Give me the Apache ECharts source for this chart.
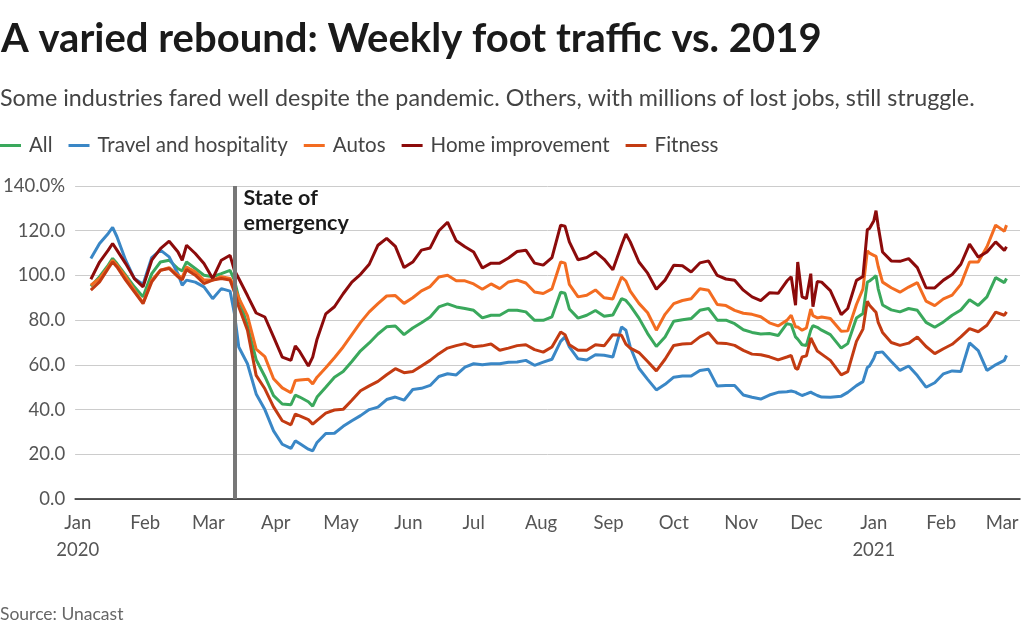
<!DOCTYPE html>
<html><head><meta charset="utf-8">
<script src="https://cdn.jsdelivr.net/npm/echarts@6/dist/echarts.min.js"></script>
<style>html,body{margin:0;padding:0;background:#fff;}#chart{width:1024px;height:636px;}</style>
</head><body><div id="chart"></div>
<script>
const dates = ['2020-01-07','2020-01-11','2020-01-15','2020-01-17','2020-01-19','2020-01-23','2020-01-27','2020-01-31','2020-02-04','2020-02-08',
'2020-02-12','2020-02-16','2020-02-18','2020-02-20','2020-02-24','2020-02-28','2020-03-03','2020-03-07','2020-03-11','2020-03-13',
'2020-03-15','2020-03-19','2020-03-23','2020-03-27','2020-03-31','2020-04-04','2020-04-08','2020-04-10','2020-04-12','2020-04-16',
'2020-04-18','2020-04-20','2020-04-24','2020-04-28','2020-05-02','2020-05-06','2020-05-10','2020-05-14','2020-05-18','2020-05-22',
'2020-05-26','2020-05-30','2020-06-03','2020-06-07','2020-06-11','2020-06-15','2020-06-19','2020-06-23','2020-06-27','2020-07-01',
'2020-07-05','2020-07-09','2020-07-13','2020-07-17','2020-07-21','2020-07-25','2020-07-29','2020-08-02','2020-08-06','2020-08-10',
'2020-08-12','2020-08-14','2020-08-18','2020-08-22','2020-08-26','2020-08-30','2020-09-03','2020-09-07','2020-09-09','2020-09-11',
'2020-09-15','2020-09-19','2020-09-23','2020-09-27','2020-10-01','2020-10-05','2020-10-09','2020-10-13','2020-10-17','2020-10-21',
'2020-10-25','2020-10-29','2020-11-02','2020-11-06','2020-11-10','2020-11-14','2020-11-18','2020-11-22','2020-11-24','2020-11-26',
'2020-11-27','2020-11-29','2020-12-01','2020-12-03','2020-12-04','2020-12-06','2020-12-08','2020-12-12','2020-12-17','2020-12-20',
'2020-12-24','2020-12-27','2020-12-29','2020-12-30','2021-01-01','2021-01-02','2021-01-03','2021-01-05','2021-01-09','2021-01-13',
'2021-01-17','2021-01-21','2021-01-25','2021-01-29','2021-02-02','2021-02-06','2021-02-10','2021-02-14','2021-02-18','2021-02-22',
'2021-02-26','2021-03-02','2021-03-03'];

const allValues = [95.2,99.4,104.6,107.6,105.3,100.1,94.9,90.4,100.8,106,
106.8,103.1,102,106,103.1,100.1,99.4,100.8,102.3,97.9,
90,77.5,62.3,54.8,46.2,42.5,42.2,46.5,45.6,43.5,
41.5,45.6,50,54.5,57,61.5,66.3,69.8,73.8,77,
77.4,73.5,76.5,78.8,81.4,85.9,87.3,85.9,85.2,84.4,
81,82.2,82.2,84.4,84.4,83.7,79.9,79.9,81.5,92.5,
92,85,80.9,82.2,84.3,81.7,82.3,89.6,88.8,86.5,
80.9,74,68.2,72.5,79.5,80.2,80.7,84.4,85.2,80,
80,78.4,75.7,74.5,73.8,74,73.1,78.4,78,72.5,
71.5,69,68.7,75.5,77.5,76.8,75.5,73.5,67.5,69.5,
81,83,97,97.5,99,100,94,86.8,84.6,83.7,
85.2,84.4,79,76.8,79.2,82.2,84.5,89.1,86.6,90.4,
99,96.8,98.6];

const travelValues = [107.6,114.3,118.8,121.5,117.3,106.8,98.6,96,108,111.3,
108.3,100.8,95.6,97.9,97,94.9,89.6,94.1,93,83,
68,60.5,47,40,30.5,24.5,22.6,26,24.8,22.3,
21.5,25.3,29.3,29.4,32.5,35,37.3,40,41.1,44.5,
45.6,44.2,49,49.5,50.8,54.8,56,55.5,59,60.5,
60,60.5,60.5,61.2,61.3,62,59.8,61.2,62.5,70.5,
72.5,68,62.7,62.2,64.5,64.3,63.5,77,75.5,68,
58.5,53.5,48.8,51.3,54.5,55,55,57.5,58,50.5,
50.8,50.8,46.5,45.5,44.7,46.5,47.7,48,48.3,47.8,
47.2,46.3,47,47.8,47.2,46.3,45.6,45.5,46,47.7,
50.7,52.5,58.8,59.5,63,65.5,65.5,65.8,61.5,57.5,
59.5,55.2,50,52,56,57.3,57,69.8,66.4,57.5,
60,62,64.2];

const autosValues = [95.6,98.6,103.8,106.8,104.6,99.4,93.4,87.7,97.9,102.3,
103.5,100.1,99,103.8,101.6,97.9,97.9,99.4,98.6,94.9,
90,82,67,63.7,53.8,49.7,47.5,53,53.2,53.6,
51.5,54.5,58.7,63.2,68,73.5,79,83.7,87.4,90.8,
91,87.5,90,93.1,95,99.3,100.1,97.6,97.6,96.2,
93.8,96.2,94.1,97.1,97.9,96.6,92.6,91.9,94,106,
105.5,96,90.4,91.1,93.5,90,89.5,99.3,97.5,93,
87.5,83.3,75.5,82.6,87.4,88.8,89.6,94,93.4,87,
86.5,84.4,83.1,82.6,81.5,78.8,77.4,79.9,82.2,76.9,
76.9,75.5,76.5,85,82,81,81.4,80.7,75,75.2,
87,94,111,110,109,108.5,104,97,94.5,92.5,
94.8,96.8,88.5,86.5,89.5,91.2,96,106,106,112.8,
122.5,119.8,122.5];

const homeValues = [98.3,106,111.3,114.3,111.3,105.3,98.6,94.9,106.8,112,
115.3,110.6,106.8,113.5,109.8,105.3,98.6,106.8,109,102.3,
98.6,91,83.2,81.4,72.5,63.5,62,68.5,66,59.5,
63.5,71.5,82.8,86,91.8,97,100.5,105,113.5,116.6,
113,103.5,106,111.3,112.3,120,123.8,115.5,112.8,110.5,
103.3,105.5,105.5,107.8,110.7,111.3,105.5,104.6,108,122.5,
122,115,107,108,110.5,107.2,102.5,113.5,118.5,115,
106,101,93.8,97.9,104.6,104.3,101.5,105.6,106.5,100,
98.4,97.8,93.4,90.4,88.7,92.2,92,97.5,99.4,86.7,
106,90.4,89.6,100.8,86,97.3,97,93.2,82.5,85.2,
97.8,99.5,120.5,121,124.5,129,122,110.5,106.5,106.3,
107.5,103.5,94.5,94.4,97.9,100.4,105,114,108.2,110.5,
115,111.2,112.8];

const fitnessValues = [93.4,97.1,103.1,106,103.8,97.9,92.6,87.4,97.1,102.3,
103.1,99.4,98,102.6,100.1,96.4,97.9,98.6,97.9,92.6,
86,75.5,55.3,49.3,41.2,35,33.2,38,37.2,35.5,
33.5,35.2,38.4,39.8,40.1,44.2,48.4,50.6,52.6,55.6,
58.3,56.5,57,59.5,62,65,67.5,68.6,69.5,68.1,
68.5,69.3,66.5,67.5,68.6,69,66.8,65.7,68,74.7,
73.5,69,66.5,66.5,69,68.5,73.5,73.2,69.3,67.5,
65.5,61.5,57.3,62.5,68.7,69.3,69.5,72.5,74.4,69.8,
69.6,68.7,66.5,64.8,64.5,63.6,62.2,63.5,64.2,58.5,
58,63.5,64,72,70,66.2,64.8,62,55.5,57,
70.5,76,88.5,86.7,84.5,83.5,79,74.5,70,68.7,
69.7,72.5,68.2,65,67.2,69.2,72.5,76.2,74.8,77.7,
83.6,82.2,83.7];

const seriesNames = ['All','Travel and hospitality','Autos','Home improvement','Fitness'];
const seriesColors = ['#3aa85c','#3a87c6','#f36c21','#8c0b0b','#c33b12'];
const monthNames = ['Jan','Feb','Mar','Apr','May','Jun','Jul','Aug','Sep','Oct','Nov','Dec'];
const yTicks = {min: 0, max: 140, interval: 20};
const emergencyDate = '2020-03-13';
const emergencyLabel = 'State of\nemergency';
const titleText = 'A varied rebound: Weekly foot traffic vs. 2019';
const subtitleText = 'Some industries fared well despite the pandemic. Others, with millions of lost jobs, still struggle.';
const sourceText = 'Source: Unacast';

function ts(s){const p=s.split('-').map(Number);return new Date(p[0],p[1]-1,p[2]).getTime();}
const DAY = 864e5;
const xMin = ts('2020-01-01') - 1.24*DAY;
const xMax = ts('2021-03-01') + 8.2*DAY;

const valueSets = [allValues, travelValues, autosValues, homeValues, fitnessValues];
const FONT = 'Lato';

const series = seriesNames.map((name,i)=>({
  name, type:'line', showSymbol:false, symbol:'none',
  data: dates.map((d,j)=>[ts(d), valueSets[i][j]]),
  lineStyle:{width:3, color:seriesColors[i]},
  itemStyle:{color:seriesColors[i]},
  emphasis:{disabled:true}, z: 3
}));
series.push({
  name:'emergency', type:'line', data:[], silent:true, z:2,
  markLine:{silent:true, symbol:'none', animation:false,
    lineStyle:{color:'#777', width:4, type:'solid'}, label:{show:false},
    data:[{xAxis: ts(emergencyDate)}]}
});

const chart = echarts.init(document.getElementById('chart'), null, {renderer:'canvas'});
chart.setOption({
  animation:false,
  backgroundColor:'#fff',
  textStyle:{fontFamily:FONT},
  title:[
    {text:titleText, left:1, top:19, padding:0, textStyle:{fontFamily:FONT, fontWeight:'bold', fontSize:40, color:'#1a1a1a'}},
    {text:subtitleText, left:0, top:87, padding:0, textStyle:{fontFamily:FONT, fontWeight:'normal', fontSize:23.3, color:'#444'}},
    {text:sourceText, left:0, top:605, padding:0, textStyle:{fontFamily:FONT, fontWeight:'normal', fontSize:17.5, color:'#666'}}
  ],
  legend:{left:0, top:135, padding:0, icon:'rect', itemWidth:21, itemHeight:3, itemGap:16,
    data:seriesNames, selectedMode:false,
    textStyle:{fontFamily:FONT, fontSize:20.5, color:'#444', padding:[0,0,0,3]}},
  grid:{left:75, right:4, top:186, bottom:137, containLabel:false},
  xAxis:{type:'time', min:xMin, max:xMax, splitNumber:14,
    axisLine:{show:true, lineStyle:{color:'#222', width:1.5}},
    axisTick:{show:false},
    splitLine:{show:false},
    axisLabel:{color:'#555', fontSize:18.5, fontFamily:FONT, margin:11, lineHeight:27, hideOverlap:false,
      formatter:(v)=>{const d=new Date(v);const m=monthNames[d.getMonth()];return d.getMonth()===0? m+'\n'+d.getFullYear(): m;}}
  },
  yAxis:{type:'value', min:yTicks.min, max:yTicks.max, interval:yTicks.interval,
    axisLine:{show:false}, axisTick:{show:false},
    splitLine:{lineStyle:{color:'#ccc', width:1}},
    axisLabel:{color:'#555', fontSize:18.5, fontFamily:FONT, margin:10,
      formatter:(v)=> v===yTicks.max ? v.toFixed(1)+'%' : v.toFixed(1)}
  },
  series
});
const ex = chart.convertToPixel({xAxisIndex:0}, ts(emergencyDate));
chart.setOption({graphic:[{type:'text', left: ex+9, top:186, silent:true,
  style:{text:emergencyLabel, font:'bold 21.5px '+FONT, fill:'#1a1a1a', lineHeight:25}}]});
</script></body></html>
